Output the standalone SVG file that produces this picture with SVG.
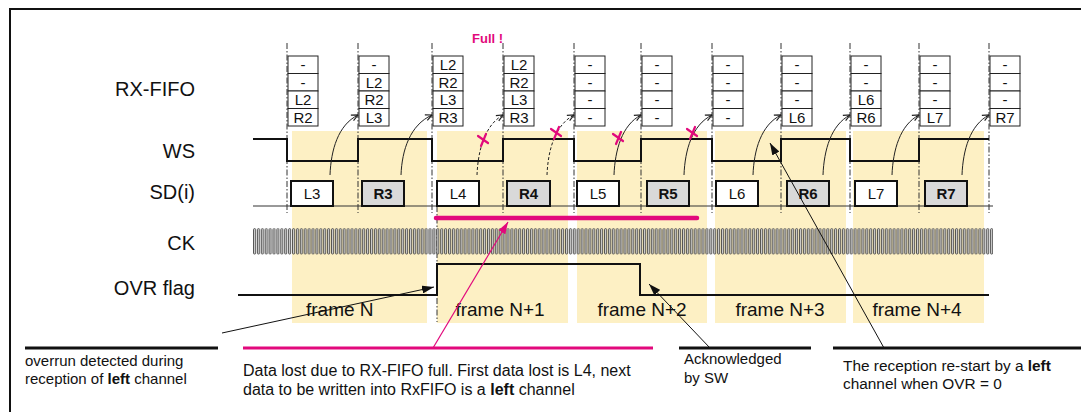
<svg xmlns="http://www.w3.org/2000/svg" width="1081" height="412" viewBox="0 0 1081 412">
<defs>
<style>
text{font-family:"Liberation Sans",Arial,sans-serif;fill:#111}
.lbl{font-size:20px;text-anchor:end}
.fr{font-size:19px}
.ff{font-size:15px;text-anchor:middle}
.sd{font-size:15px;text-anchor:middle}
.b{font-weight:bold}
.note{font-size:15px}
.note16{font-size:16px}
.band{fill:#fdf0c4}
.cell{fill:#fff;stroke:#222;stroke-width:1}
.boxL{fill:#fff;stroke:#111;stroke-width:2}
.boxR{fill:#d9d9d9;stroke:#111;stroke-width:2}
.dd{stroke:#333;stroke-width:1;stroke-dasharray:6 2 1.5 2;fill:none}
.sig{stroke:#111;stroke-width:2;fill:none}
.wr{stroke:#222;stroke-width:1;fill:none;marker-end:url(#open)}
.wrd{stroke:#222;stroke-width:1;fill:none;stroke-dasharray:3 2;marker-end:url(#open)}
.x{stroke:#e2097c;stroke-width:2.2;stroke-linecap:round}
.ul{stroke:#111;stroke-width:3}
.ulm{stroke:#e2097c;stroke-width:3}
.ptr{stroke:#111;stroke-width:1;marker-end:url(#fillb)}
.ptrm{stroke:#e2097c;stroke-width:1.2;marker-end:url(#fillm)}
</style>
<marker id="open" viewBox="0 0 8 8" refX="7.5" refY="4" markerWidth="8" markerHeight="8" orient="auto" markerUnits="userSpaceOnUse"><path d="M1,1 L7.5,4 L1,7" fill="none" stroke="#222" stroke-width="1.2"/></marker>
<marker id="fillb" viewBox="0 0 12 8" refX="12" refY="4" markerWidth="12" markerHeight="8" orient="auto" markerUnits="userSpaceOnUse"><path d="M0,0 L12,4 L0,8 z" fill="#111"/></marker>
<marker id="fillm" viewBox="0 0 12 8" refX="12" refY="4" markerWidth="12" markerHeight="8" orient="auto" markerUnits="userSpaceOnUse"><path d="M0,0 L12,4 L0,8 z" fill="#e2097c"/></marker>
<pattern id="ck" x="253" y="228" width="3.9" height="27" patternUnits="userSpaceOnUse"><rect x="0.5" y="0.6" width="2.1" height="25.5" rx="1" fill="#cfcfcf" stroke="#333" stroke-width="0.8"/></pattern>
</defs>

<g id="frame-border">
<line x1="10" y1="9" x2="1081" y2="9" stroke="#111" stroke-width="2"/>
<line x1="10" y1="8" x2="10" y2="412" stroke="#111" stroke-width="2"/>
</g>

<g id="frames">
<rect class="band" x="292" y="131" width="135" height="192"/>
<rect class="band" x="437" y="131" width="131" height="192"/>
<rect class="band" x="577" y="131" width="130" height="192"/>
<rect class="band" x="715" y="131" width="131" height="192"/>
<rect class="band" x="853" y="131" width="131" height="192"/>
<text class="fr" x="306" y="316">frame N</text>
<text class="fr" x="500" y="316" text-anchor="middle">frame N+1</text>
<text class="fr" x="642" y="316" text-anchor="middle">frame N+2</text>
<text class="fr" x="780" y="316" text-anchor="middle">frame N+3</text>
<text class="fr" x="917" y="316" text-anchor="middle">frame N+4</text>
</g>

<g id="labels">
<text class="lbl" x="195" y="96">RX-FIFO</text>
<text class="lbl" x="195" y="158">WS</text>
<text class="lbl" x="195" y="199">SD(i)</text>
<text class="lbl" x="195" y="250">CK</text>
<text class="lbl" x="195" y="295">OVR flag</text>
</g>

<g id="timelines">
<path class="dd" d="M287,43 V213 M358,43 V213 M432,43 V213 M503,43 V213 M574,43 V213 M641,43 V213 M712,43 V213 M781,43 V213 M850,43 V213 M919,43 V213 M989,43 V213 M437,206 V322"/>
</g>

<g id="rx-fifo">
<g id="fifo1"><rect class="cell" x="288" y="56" width="30" height="17.5"/><rect class="cell" x="288" y="73.5" width="30" height="17.5"/><rect class="cell" x="288" y="91" width="30" height="17.5"/><rect class="cell" x="288" y="108.5" width="30" height="17.5"/>
<text class="ff" x="303" y="70">-</text><text class="ff" x="303" y="87.5">-</text><text class="ff" x="303" y="105">L2</text><text class="ff" x="303" y="122.5">R2</text></g>
<g id="fifo2"><rect class="cell" x="359" y="56" width="30" height="17.5"/><rect class="cell" x="359" y="73.5" width="30" height="17.5"/><rect class="cell" x="359" y="91" width="30" height="17.5"/><rect class="cell" x="359" y="108.5" width="30" height="17.5"/>
<text class="ff" x="374" y="70">-</text><text class="ff" x="374" y="87.5">L2</text><text class="ff" x="374" y="105">R2</text><text class="ff" x="374" y="122.5">L3</text></g>
<g id="fifo3"><rect class="cell" x="433" y="56" width="30" height="17.5"/><rect class="cell" x="433" y="73.5" width="30" height="17.5"/><rect class="cell" x="433" y="91" width="30" height="17.5"/><rect class="cell" x="433" y="108.5" width="30" height="17.5"/>
<text class="ff" x="448" y="70">L2</text><text class="ff" x="448" y="87.5">R2</text><text class="ff" x="448" y="105">L3</text><text class="ff" x="448" y="122.5">R3</text></g>
<g id="fifo4"><rect class="cell" x="504" y="56" width="30" height="17.5"/><rect class="cell" x="504" y="73.5" width="30" height="17.5"/><rect class="cell" x="504" y="91" width="30" height="17.5"/><rect class="cell" x="504" y="108.5" width="30" height="17.5"/>
<text class="ff" x="519" y="70">L2</text><text class="ff" x="519" y="87.5">R2</text><text class="ff" x="519" y="105">L3</text><text class="ff" x="519" y="122.5">R3</text></g>
<g id="fifo5"><rect class="cell" x="575" y="56" width="30" height="17.5"/><rect class="cell" x="575" y="73.5" width="30" height="17.5"/><rect class="cell" x="575" y="91" width="30" height="17.5"/><rect class="cell" x="575" y="108.5" width="30" height="17.5"/>
<text class="ff" x="590" y="70">-</text><text class="ff" x="590" y="87.5">-</text><text class="ff" x="590" y="105">-</text><text class="ff" x="590" y="122.5">-</text></g>
<g id="fifo6"><rect class="cell" x="642" y="56" width="30" height="17.5"/><rect class="cell" x="642" y="73.5" width="30" height="17.5"/><rect class="cell" x="642" y="91" width="30" height="17.5"/><rect class="cell" x="642" y="108.5" width="30" height="17.5"/>
<text class="ff" x="657" y="70">-</text><text class="ff" x="657" y="87.5">-</text><text class="ff" x="657" y="105">-</text><text class="ff" x="657" y="122.5">-</text></g>
<g id="fifo7"><rect class="cell" x="713" y="56" width="30" height="17.5"/><rect class="cell" x="713" y="73.5" width="30" height="17.5"/><rect class="cell" x="713" y="91" width="30" height="17.5"/><rect class="cell" x="713" y="108.5" width="30" height="17.5"/>
<text class="ff" x="728" y="70">-</text><text class="ff" x="728" y="87.5">-</text><text class="ff" x="728" y="105">-</text><text class="ff" x="728" y="122.5">-</text></g>
<g id="fifo8"><rect class="cell" x="782" y="56" width="30" height="17.5"/><rect class="cell" x="782" y="73.5" width="30" height="17.5"/><rect class="cell" x="782" y="91" width="30" height="17.5"/><rect class="cell" x="782" y="108.5" width="30" height="17.5"/>
<text class="ff" x="797" y="70">-</text><text class="ff" x="797" y="87.5">-</text><text class="ff" x="797" y="105">-</text><text class="ff" x="797" y="122.5">L6</text></g>
<g id="fifo9"><rect class="cell" x="851" y="56" width="30" height="17.5"/><rect class="cell" x="851" y="73.5" width="30" height="17.5"/><rect class="cell" x="851" y="91" width="30" height="17.5"/><rect class="cell" x="851" y="108.5" width="30" height="17.5"/>
<text class="ff" x="866" y="70">-</text><text class="ff" x="866" y="87.5">-</text><text class="ff" x="866" y="105">L6</text><text class="ff" x="866" y="122.5">R6</text></g>
<g id="fifo10"><rect class="cell" x="920" y="56" width="30" height="17.5"/><rect class="cell" x="920" y="73.5" width="30" height="17.5"/><rect class="cell" x="920" y="91" width="30" height="17.5"/><rect class="cell" x="920" y="108.5" width="30" height="17.5"/>
<text class="ff" x="935" y="70">-</text><text class="ff" x="935" y="87.5">-</text><text class="ff" x="935" y="105">-</text><text class="ff" x="935" y="122.5">L7</text></g>
<g id="fifo11"><rect class="cell" x="990" y="56" width="30" height="17.5"/><rect class="cell" x="990" y="73.5" width="30" height="17.5"/><rect class="cell" x="990" y="91" width="30" height="17.5"/><rect class="cell" x="990" y="108.5" width="30" height="17.5"/>
<text class="ff" x="1005" y="70">-</text><text class="ff" x="1005" y="87.5">-</text><text class="ff" x="1005" y="105">-</text><text class="ff" x="1005" y="122.5">R7</text></g>
<text id="full" x="472" y="43" font-size="13" font-weight="bold" style="fill:#e2097c">Full !</text>
</g>

<g id="ws"><path class="sig" d="M253,139 H287 V161 H358 V139 H432 V161 H503 V139 H574 V161 H641 V139 H712 V161 H781 V139 H850 V161 H919 V139 H989"/></g>

<g id="sd">
<line x1="253" y1="206" x2="993" y2="206" stroke="#333" stroke-width="1"/>
<g id="sdL3"><rect class="boxL" x="291" y="181" width="42" height="25"/><text class="sd" x="312" y="199">L3</text></g>
<g id="sdR3"><rect class="boxR" x="362" y="181" width="42" height="25"/><text class="sd b" x="383" y="199">R3</text></g>
<g id="sdL4"><rect class="boxL" x="437" y="181" width="42" height="25"/><text class="sd" x="458" y="199">L4</text></g>
<g id="sdR4"><rect class="boxR" x="507" y="181" width="43" height="25"/><text class="sd b" x="528.5" y="199">R4</text></g>
<g id="sdL5"><rect class="boxL" x="577" y="181" width="42" height="25"/><text class="sd" x="598" y="199">L5</text></g>
<g id="sdR5"><rect class="boxR" x="647" y="181" width="42" height="25"/><text class="sd b" x="668" y="199">R5</text></g>
<g id="sdL6"><rect class="boxL" x="716" y="181" width="42" height="25"/><text class="sd" x="737" y="199">L6</text></g>
<g id="sdR6"><rect class="boxR" x="787" y="181" width="42" height="25"/><text class="sd b" x="808" y="199">R6</text></g>
<g id="sdL7"><rect class="boxL" x="855" y="181" width="42" height="25"/><text class="sd" x="876" y="199">L7</text></g>
<g id="sdR7"><rect class="boxR" x="925" y="181" width="42" height="25"/><text class="sd b" x="946" y="199">R7</text></g>
</g>

<g id="ck"><rect x="253" y="228" width="740" height="27" fill="url(#ck)"/></g>

<g id="ovr"><path class="sig" d="M238,295 H437 V264 H640 V295 H989"/></g>

<g id="connectors">
<path class="wr" d="M330,175 C331,150 338,125 358,115"/>
<path class="wr" d="M401,175 C402,150 410,125 432,115"/>
<path class="wrd" d="M477,175 C478,150 485,125 503,115"/>
<path class="wrd" d="M547,175 C548,150 555,125 574,115"/>
<path class="wr" d="M614,175 C615,150 622,125 641,115"/>
<path class="wr" d="M684,175 C685,150 692,125 712,115"/>
<path class="wr" d="M753,175 C754,150 761,125 781,115"/>
<path class="wr" d="M823,175 C824,150 831,125 850,115"/>
<path class="wr" d="M892,175 C893,150 900,125 919,115"/>
<path class="wr" d="M962,175 C963,150 970,125 989,115"/>
<line class="ptr" x1="222" y1="333" x2="434" y2="287"/>
<line class="ptrm" x1="433" y1="348" x2="508" y2="222"/>
<line class="ptr" x1="710" y1="348" x2="649" y2="284"/>
<line class="ptr" x1="884" y1="348" x2="770" y2="143"/>
</g>

<g id="lost-marks">
<line x1="436" y1="218" x2="697" y2="218" stroke="#e2097c" stroke-width="4.5" stroke-linecap="round"/>
<path class="x" d="M478,136 L488,143 M481,146 L486,134"/>
<path class="x" d="M551,129 L561,136 M554,139 L559,127"/>
<path class="x" d="M613,134 L623,141 M616,144 L621,132"/>
<path class="x" d="M687,129 L697,136 M690,139 L695,127"/>
</g>

<g id="notes">
<line class="ul" x1="25" y1="348" x2="218" y2="348"/>
<text class="note" x="25" y="366">overrun detected during</text>
<text class="note" x="25" y="384">reception of <tspan class="b">left</tspan> channel</text>
<line class="ulm" x1="243" y1="348" x2="653" y2="348"/>
<text class="note16" x="243" y="376">Data lost due to RX-FIFO full. First data lost is L4, next</text>
<text class="note16" x="243" y="395">data to be written into RxFIFO is a <tspan class="b">left</tspan> channel</text>
<line class="ul" x1="679" y1="348" x2="811" y2="348"/>
<text class="note" x="684" y="364">Acknowledged</text>
<text class="note" x="684" y="383">by SW</text>
<line class="ul" x1="833" y1="348" x2="1081" y2="348"/>
<text class="note" x="843" y="371" style="font-size:15.4px">The reception re-start by a <tspan class="b">left</tspan></text>
<text class="note" x="843" y="389" style="font-size:15.4px">channel when OVR = 0</text>
</g>
</svg>
